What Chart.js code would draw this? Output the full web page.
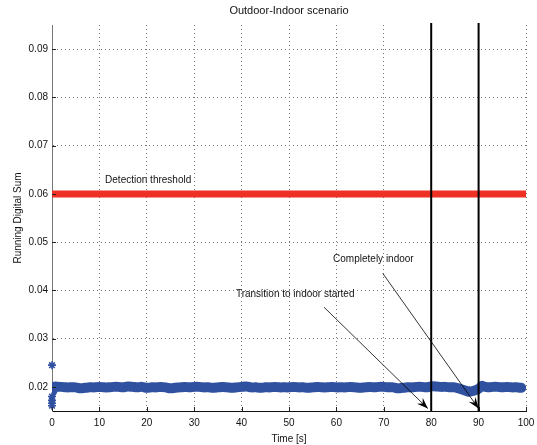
<!DOCTYPE html>
<html>
<head>
<meta charset="utf-8">
<script src="https://cdn.jsdelivr.net/npm/chart.js@4.4.0/dist/chart.umd.min.js"></script>
<style>
html,body{margin:0;padding:0;background:#fff;}
#wrap{width:537px;height:445px;}
</style>
</head>
<body>
<div id="wrap"><canvas id="c" width="537" height="445"></canvas></div>
<script>
// ---- data ----
const chartTitle = "Outdoor-Indoor scenario";
const xTitle = "Time [s]";
const yTitle = "Running Digital Sum";
const xTicks = [0,10,20,30,40,50,60,70,80,90,100];
const yTicks = [0.02,0.03,0.04,0.05,0.06,0.07,0.08,0.09];
const times = [0,0.5,1,2,3,4,5,6,7,8,9,10,11,12,13,14,15,16,17,18,19,20,21,22,23,24,25,26,27,28,29,30,31,32,33,34,35,36,37,38,39,40,41,42,43,44,45,46,47,48,49,50,51,52,53,54,55,56,57,58,59,60,61,62,63,64,65,66,67,68,69,70,71,72,73,74,75,76,77,78,79,80,81,82,83,84,85,86,87,88,89,90,90.7,91,92,93,94,95,96,97,98,99];
const rds = [0.0190,0.0200,0.02005,0.0200,0.0199,0.0199,0.0199,0.0197,0.0198,0.0199,0.0199,0.0200,0.0199,0.0199,0.0200,0.0200,0.0199,0.0201,0.0200,0.0199,0.0200,0.0198,0.0199,0.0199,0.0200,0.0199,0.0197,0.0198,0.0199,0.0200,0.0199,0.0200,0.0200,0.0199,0.0199,0.0198,0.0199,0.0200,0.0199,0.0198,0.0199,0.0200,0.0201,0.0199,0.0199,0.0198,0.0199,0.0199,0.0200,0.0199,0.0199,0.0199,0.0200,0.0199,0.0199,0.0198,0.0199,0.0200,0.0199,0.0199,0.0200,0.0199,0.0199,0.0199,0.0200,0.0199,0.0198,0.0199,0.0200,0.0199,0.0200,0.0200,0.0199,0.0199,0.0197,0.0198,0.0199,0.0199,0.0200,0.0200,0.0199,0.0201,0.0201,0.0200,0.0200,0.0199,0.0199,0.0196,0.0193,0.0190,0.0192,0.0196,0.0202,0.0201,0.0199,0.0200,0.0200,0.0199,0.0200,0.0199,0.0199,0.0198];
const startStarTimes = [0,0,0,0,0];
const startStarValues = [0.0245,0.0180,0.0172,0.0166,0.0161];
const threshold = 0.06;
const thresholdLabel = "Detection threshold";
const eventTimes = [80, 90];
// annotations: label, label position [x,y], arrow tail [x,y], arrow head [x,y]
const annLabels = ["Transition to indoor started", "Completely indoor"];
const annTextPos = [[38.8, 0.0393], [59.3, 0.0465]];
const annTail = [[57.4, 0.0365], [69.8, 0.0435]];
const annHead = [[79.3, 0.0155], [90.0, 0.0155]];
const thresholdLabelPos = [11.2, 0.0629];

const FONT = "'Liberation Sans', Arial, sans-serif";
const BLUE = "#3050a0";

const overlay = {
  id: 'overlay',
  afterDatasetsDraw(chart) {
    const {ctx, chartArea: a, scales: {x, y}} = chart;
    ctx.save();
    // inward ticks
    ctx.strokeStyle = '#222'; ctx.lineWidth = 1;
    xTicks.forEach(v => { const px = Math.round(x.getPixelForValue(v)) + 0.5; ctx.beginPath(); ctx.moveTo(px, a.bottom); ctx.lineTo(px, a.bottom - 4); ctx.stroke(); });
    yTicks.forEach(v => { const py = Math.round(y.getPixelForValue(v)) + 0.5; ctx.beginPath(); ctx.moveTo(a.left, py); ctx.lineTo(a.left + 4, py); ctx.stroke(); });
    // event lines
    ctx.strokeStyle = '#000'; ctx.lineWidth = 2;
    eventTimes.forEach(t => { const px = x.getPixelForValue(t); ctx.beginPath(); ctx.moveTo(px, a.top - 2); ctx.lineTo(px, a.bottom); ctx.stroke(); });
    // texts
    ctx.fillStyle = '#111'; ctx.font = '10px ' + FONT; ctx.textBaseline = 'middle'; ctx.textAlign = 'left';
    ctx.fillText(thresholdLabel, x.getPixelForValue(thresholdLabelPos[0]), y.getPixelForValue(thresholdLabelPos[1]));
    annLabels.forEach((lab, i) => {
      ctx.fillText(lab, x.getPixelForValue(annTextPos[i][0]), y.getPixelForValue(annTextPos[i][1]));
      const x1 = x.getPixelForValue(annTail[i][0]), y1 = y.getPixelForValue(annTail[i][1]);
      const x2 = x.getPixelForValue(annHead[i][0]), y2 = y.getPixelForValue(annHead[i][1]);
      ctx.strokeStyle = '#000'; ctx.lineWidth = 0.8;
      ctx.beginPath(); ctx.moveTo(x1, y1); ctx.lineTo(x2, y2); ctx.stroke();
      const ang = Math.atan2(y2 - y1, x2 - x1), L = 12, W = 0.35;
      ctx.fillStyle = '#000';
      ctx.beginPath(); ctx.moveTo(x2, y2);
      ctx.lineTo(x2 - L * Math.cos(ang - W), y2 - L * Math.sin(ang - W));
      ctx.lineTo(x2 - L * 0.6 * Math.cos(ang), y2 - L * 0.6 * Math.sin(ang));
      ctx.lineTo(x2 - L * Math.cos(ang + W), y2 - L * Math.sin(ang + W));
      ctx.closePath(); ctx.fill();
      ctx.fillStyle = '#111';
    });
    // title
    ctx.font = '11px ' + FONT;
    ctx.textAlign = 'center'; ctx.fillStyle = '#111';
    ctx.fillText(chartTitle, (a.left + a.right) / 2, 11);
    ctx.restore();
  }
};

new Chart(document.getElementById('c'), {
  type: 'line',
  data: {
    datasets: [
      { data: [{x: 0, y: threshold}, {x: 100, y: threshold}], borderColor: '#ee3124', borderWidth: 7, pointRadius: 0, borderCapStyle: 'butt' },
      { data: times.map((t, i) => ({x: t, y: rds[i]})), borderColor: BLUE, borderWidth: 10, pointRadius: 0, tension: 0.3, borderCapStyle: 'round' },
      { data: startStarTimes.map((t, i) => ({x: t, y: startStarValues[i]})), showLine: false, pointStyle: 'star', pointRadius: 4, borderColor: BLUE, borderWidth: 1.6, backgroundColor: BLUE, clip: false }
    ]
  },
  options: {
    responsive: false, animation: false,
    layout: { padding: { top: 25, right: 11, left: 0, bottom: 0 } },
    plugins: { legend: { display: false }, tooltip: { enabled: false }, title: { display: false } },
    scales: {
      x: {
        type: 'linear', min: 0, max: 100,
        afterBuildTicks: s => { s.ticks = xTicks.map(v => ({value: v})); },
        afterFit: s => { s.height = 34; s.paddingRight = 0; s.paddingLeft = 0; },
        grid: { color: '#777', drawTicks: false, tickLength: 0 },
        border: { display: true, color: '#111', width: 1, dash: [1, 3] },
        ticks: { font: { size: 10, family: FONT }, color: '#111', padding: 6, maxRotation: 0 },
        title: { display: true, text: xTitle, font: { size: 10, family: FONT }, color: '#111', padding: { top: 0, bottom: 0 } }
      },
      y: {
        type: 'linear', min: 0.015, max: 0.095,
        afterBuildTicks: s => { s.ticks = yTicks.map(v => ({value: v})); },
        afterFit: s => { s.width = 52; s.paddingTop = 0; s.paddingBottom = 0; },
        grid: { color: '#777', drawTicks: false, tickLength: 0 },
        border: { display: true, color: '#777', width: 1, dash: [1, 3] },
        ticks: { font: { size: 10, family: FONT }, color: '#111', padding: 4, callback: v => v.toFixed(2) },
        title: { display: true, text: yTitle, font: { size: 10, family: FONT }, color: '#111', padding: { top: 12, bottom: 0 } }
      }
    }
  },
  plugins: [overlay]
});
</script>
</body>
</html>
